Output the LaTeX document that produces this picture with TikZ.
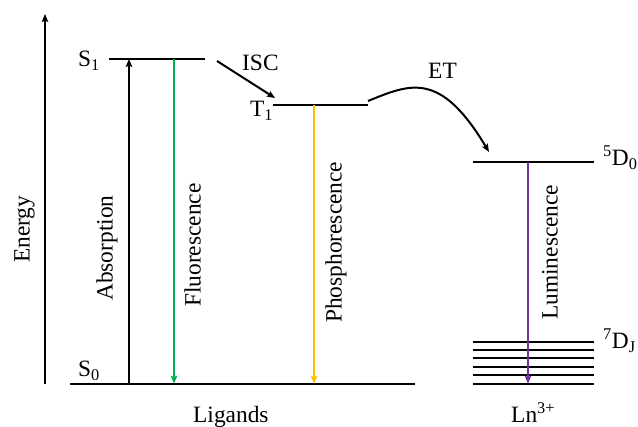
\documentclass[tikz,border=0pt]{standalone}
\usepackage{fontspec}
\setmainfont{Liberation Serif}
\usetikzlibrary{arrows.meta}
\definecolor{fgreen}{HTML}{00B050}
\definecolor{pyellow}{HTML}{FFC000}
\definecolor{lpurple}{HTML}{7030A0}
\begin{document}
\begin{tikzpicture}[x=1pt,y=-1pt,
  lvl/.style={line width=2pt},
  tip/.style={-{Stealth[length=8pt,width=6.5pt,inset=1.5pt]}},
  tr/.style={line width=1.6pt,tip},
  lab/.style={font=\fontsize{23.4}{27}\selectfont, inner sep=0pt, anchor=base west},
  rot/.style={lab, rotate=90}]
\useasboundingbox (0,0) rectangle (638,427);
% energy axis
\coordinate (ax0) at (45,384);
\coordinate (ax1) at (45,14);
\draw[line width=2pt,tip] (ax0) -- (ax1);
% levels
\coordinate (S1a) at (109,59);  \coordinate (S1b) at (205,59);
\coordinate (T1a) at (273,105); \coordinate (T1b) at (368,105);
\coordinate (S0a) at (70,383.7); \coordinate (S0b) at (415,383.7);
\coordinate (D0a) at (473,162); \coordinate (D0b) at (594,162);
\draw[lvl] (S1a) -- (S1b);
\draw[lvl] (T1a) -- (T1b);
\draw[lvl] (S0a) -- (S0b);
\draw[lvl] (D0a) -- (D0b);
\foreach \i in {0,...,5}{
  \coordinate (DJa\i) at (473,{341.7+8.4*\i});
  \coordinate (DJb\i) at (594,{341.7+8.4*\i});
  \draw[lvl] (DJa\i) -- (DJb\i);
}
% transitions
\coordinate (abs0) at (129,383.7); \coordinate (abs1) at (129,59);
\coordinate (flu0) at (174,59);    \coordinate (flu1) at (174,383.7);
\coordinate (pho0) at (314,105);   \coordinate (pho1) at (314,383.7);
\coordinate (lum0) at (528,162);   \coordinate (lum1) at (528,383.7);
\draw[tr, line width=2pt] (abs0) -- (abs1);
\draw[tr, fgreen] (flu0) -- (flu1);
\draw[tr, pyellow] (pho0) -- (pho1);
\draw[tr, lpurple] (lum0) -- (lum1);
% ISC
\coordinate (isc0) at (217,61); \coordinate (isc1) at (275,98);
\draw[tr, line width=2pt] (isc0) -- (isc1);
% ET
\coordinate (et0) at (368,101); \coordinate (et1) at (489,152);
\draw[tr, line width=2pt] (et0) .. controls (410,84) and (440,70) .. (et1);
% labels
\node[lab] (lS1) at (78,67) {S\textsubscript{1}};
\node[lab] (lT1) at (250,117) {T\textsubscript{1}};
\node[lab] (lS0) at (78,377) {S\textsubscript{0}};
\node[lab] (lISC) at (242,71) {ISC};
\node[lab] (lET) at (428,79) {ET};
\node[lab] (lD0) at (603,166) {\textsuperscript{5}D\textsubscript{0}};
\node[lab] (lDJ) at (603,349) {\textsuperscript{7}D\textsubscript{J}};
\node[lab] (lLig) at (193,423) {Ligands};
\node[lab] (lLn) at (511,423) {Ln\textsuperscript{3+}};
\node[rot] (lE) at (29.5,263) {Energy};
\node[rot] (lAbs) at (112.5,301) {Absorption};
\node[rot] (lFlu) at (200.5,307) {Fluorescence};
\node[rot] (lPho) at (341.5,323) {Phosphorescence};
\node[rot] (lLum) at (557.5,320) {Luminescence};
\end{tikzpicture}
\end{document}
